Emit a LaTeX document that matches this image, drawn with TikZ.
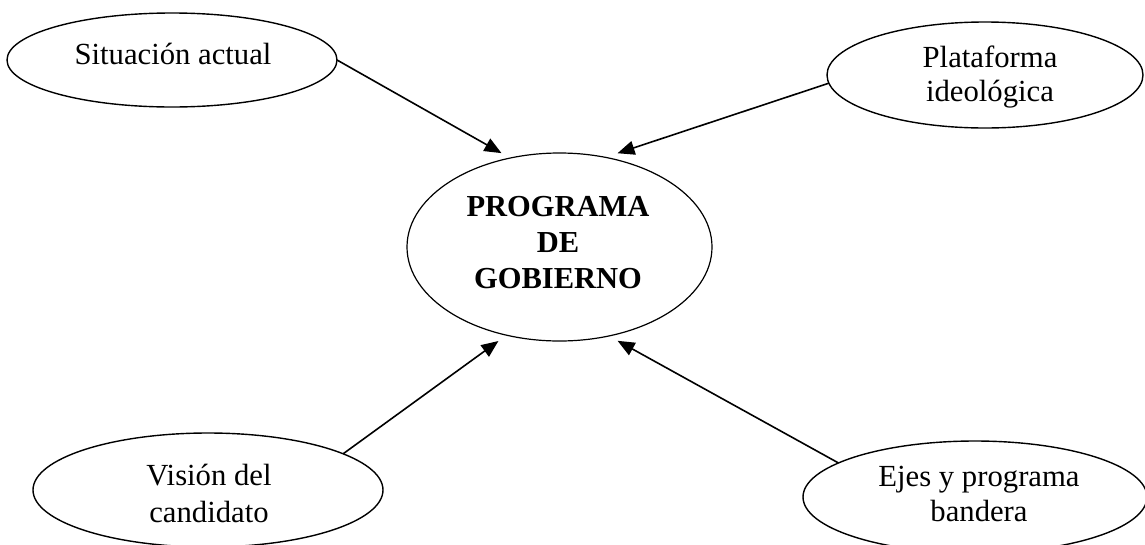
\documentclass[tikz,border=0pt]{standalone}
\usepackage{fontspec}
\setmainfont{Liberation Serif}
\usetikzlibrary{arrows.meta,shapes.geometric}
\tikzset{
  bubble/.style={ellipse, draw, line width=1.4pt, inner sep=0pt, outer sep=0pt},
  txt/.style={font=\fontsize{30.7}{#1}\selectfont, align=center, inner sep=0pt},
  link/.style={line width=1.6pt, -{Triangle[length=17pt,width=14pt]}, shorten >=10pt},
}
\begin{document}
\begin{tikzpicture}[x=1pt,y=-1pt]
\useasboundingbox (0,0) rectangle (1145,544);
\clip (0,0) rectangle (1145,544);
% ellipses
\node[bubble, minimum width=330pt, minimum height=94pt]  (sa) at (172,60) {};
\node[bubble, minimum width=316pt, minimum height=106pt] (pi) at (985,75) {};
\node[bubble, minimum width=305pt, minimum height=188pt, line width=1.2pt] (pg) at (559.5,247) {};
\node[bubble, minimum width=350pt, minimum height=114pt] (vc) at (208,490) {};
\node[bubble, minimum width=344pt, minimum height=112pt] (ej) at (975,497) {};
% texts
\node[txt=35] (sat) at (173,54) {Situación actual};
\node[txt=34] (pit) at (990,77) {Plataforma\\ideológica};
\node[txt=36, font=\fontsize{30.5}{36}\selectfont\bfseries] (pgt) at (558,243) {PROGRAMA\\DE\\GOBIERNO};
\node[txt=37] (vct) at (209,493) {Visión del\\candidato};
\node[txt=35] (ejt) at (979,494) {Ejes y programa\\bandera};
% connectors
\draw[link] (sa.east) -- (pg.119.5);
\draw[link, shorten >=13pt] (pi.183) -- (pg.63);
\draw[link] (vc.15) -- (pg.239.7);
\draw[link] (ej.166) -- (pg.299);
\end{tikzpicture}
\end{document}
